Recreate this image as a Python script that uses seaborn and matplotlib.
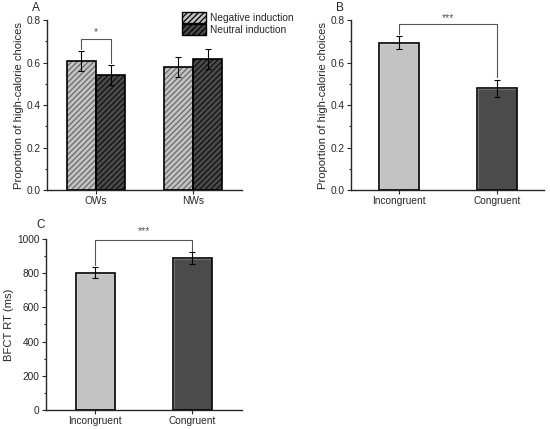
import numpy as np
import pandas as pd
import matplotlib
matplotlib.use("Agg")
import matplotlib.pyplot as plt
import seaborn as sns
from matplotlib.patches import Patch, Rectangle

# dati
gruppi = ["OWs", "OWs", "NWs", "NWs"]
induzioni = ["Negative induction", "Neutral induction", "Negative induction", "Neutral induction"]
prop_a = [0.607, 0.542, 0.580, 0.617]
err_a = [0.048, 0.049, 0.047, 0.049]

condizioni = ["Incongruent", "Congruent"]
prop_b = [0.694, 0.479]
err_b = [0.032, 0.039]

rt_c = [804, 889]
err_c = [30, 33]

chiaro = "#c3c3c3"
scuro = "#4b4b4b"

sns.set_style("ticks")
plt.rcParams["font.family"] = ["Liberation Sans", "DejaVu Sans"]
plt.rcParams["hatch.linewidth"] = 0.9

fig = plt.figure(figsize=(5.5, 4.29), dpi=100)
ax_a = fig.add_axes([0.0855, 0.557, 0.3545, 0.396])
ax_b = fig.add_axes([0.638, 0.557, 0.351, 0.396])
ax_c = fig.add_axes([0.0836, 0.0443, 0.356, 0.3986])


def stile(ax, ylabel):
    for s in ["top", "right"]:
        ax.spines[s].set_visible(False)
    for s in ["left", "bottom"]:
        ax.spines[s].set_linewidth(1.0)
    ax.tick_params(axis="both", which="major", direction="out", length=3, width=0.8,
                   labelsize=7.3, pad=1.5)
    ax.tick_params(axis="y", which="minor", direction="out", length=1.8, width=0.8)
    ax.set_xlabel("")
    ax.set_ylabel(ylabel, fontsize=8.1, labelpad=2)


def contorno(ax, hatch_colori=None):
    # i bordi neri sopra le barre (il tratteggio prende il colore del bordo)
    for i, p in enumerate(list(ax.patches)):
        x, y = p.get_xy()
        w, h = p.get_width(), p.get_height()
        if hatch_colori is not None:
            p.set_edgecolor(hatch_colori[i])
            p.set_linewidth(0)
        ax.add_patch(Rectangle((x, y), w, h, fill=False, edgecolor="black",
                               linewidth=1.2, zorder=3))


def parentesi(ax, x1, x2, y_top, y1, y2, testo, y_testo):
    ax.plot([x1, x1, x2, x2], [y1, y_top, y_top, y2], color="#555555", lw=0.8,
            clip_on=False, zorder=4)
    ax.text((x1 + x2) / 2, y_testo, testo, ha="center", va="center", fontsize=7.5,
            color="#555555", clip_on=False)


# pannello A
df_a = pd.DataFrame({"gruppo": gruppi, "induzione": induzioni, "prop": prop_a, "err": err_a})
sns.barplot(data=df_a, x="gruppo", y="prop", hue="induzione", palette=[chiaro, scuro],
            width=0.6, errorbar=None, legend=False, ax=ax_a)
for p in ax_a.patches:
    p.set_hatch("//////")
# ordine delle barre di seaborn: prima tutte le negative, poi le neutre
contorno(ax_a, hatch_colori=["#6a6a6a", "#6a6a6a", "#111111", "#111111"])
pos_a = [0 - 0.15, 1 - 0.15, 0 + 0.15, 1 + 0.15]
ord_a = [0, 2, 1, 3]
ax_a.errorbar(pos_a, [prop_a[i] for i in ord_a], yerr=[err_a[i] for i in ord_a],
              fmt="none", ecolor="black", elinewidth=0.8, capsize=2.0, capthick=0.8, zorder=5)
ax_a.set_xlim(-0.505, 1.505)
ax_a.set_ylim(0, 0.8)
ax_a.set_yticks(np.arange(0, 0.81, 0.2))
ax_a.set_yticks(np.arange(0.1, 0.8, 0.2), minor=True)
ax_a.set_yticklabels(["0.0", "0.2", "0.4", "0.6", "0.8"])
stile(ax_a, "Proportion of high-calorie choices")
parentesi(ax_a, -0.15, 0.15, 0.711, 0.663, 0.60, "*", 0.742)
maniglie = [Patch(facecolor=chiaro, edgecolor="#6a6a6a", hatch="//////", linewidth=0),
            Patch(facecolor=scuro, edgecolor="#111111", hatch="//////", linewidth=0)]
leg = ax_a.legend(maniglie, ["Negative induction", "Neutral induction"], loc="upper left",
                  bbox_to_anchor=(0.67, 1.07), frameon=False, fontsize=7.3,
                  handlelength=2.4, handleheight=1.3, handletextpad=0.4,
                  labelspacing=0.05, borderaxespad=0)
for h in leg.get_patches():
    h.set_edgecolor("black")
    h.set_linewidth(1.0)

# pannello B
df_b = pd.DataFrame({"condizione": condizioni, "prop": prop_b})
sns.barplot(data=df_b, x="condizione", y="prop", hue="condizione", palette=[chiaro, scuro],
            width=0.4, errorbar=None, legend=False, ax=ax_b)
contorno(ax_b)
ax_b.errorbar([0, 1], prop_b, yerr=err_b, fmt="none", ecolor="black", elinewidth=0.8,
              capsize=2.0, capthick=0.8, zorder=5)
ax_b.set_xlim(-0.49, 1.48)
ax_b.set_ylim(0, 0.8)
ax_b.set_yticks(np.arange(0, 0.81, 0.2))
ax_b.set_yticks(np.arange(0.1, 0.8, 0.2), minor=True)
ax_b.set_yticklabels(["0.0", "0.2", "0.4", "0.6", "0.8"])
stile(ax_b, "Proportion of high-calorie choices")
parentesi(ax_b, 0, 1, 0.78, 0.735, 0.53, "***", 0.812)

# pannello C
df_c = pd.DataFrame({"condizione": condizioni, "rt": rt_c})
sns.barplot(data=df_c, x="condizione", y="rt", hue="condizione", palette=[chiaro, scuro],
            width=0.4, errorbar=None, legend=False, ax=ax_c)
contorno(ax_c)
ax_c.errorbar([0, 1], rt_c, yerr=err_c, fmt="none", ecolor="black", elinewidth=0.8,
              capsize=2.0, capthick=0.8, zorder=5)
ax_c.set_xlim(-0.51, 1.51)
ax_c.set_ylim(0, 1000)
ax_c.set_yticks(np.arange(0, 1001, 200))
ax_c.set_yticks(np.arange(100, 1000, 200), minor=True)
stile(ax_c, "BFCT RT (ms)")
parentesi(ax_c, 0, 1, 994, 848, 925, "***", 1045)

# lettere dei pannelli
fig.text(32 / 550, 1 - 8 / 429, "A", fontsize=8.5, ha="left", va="center")
fig.text(336 / 550, 1 - 8 / 429, "B", fontsize=8.5, ha="left", va="center")
fig.text(36 / 550, 1 - 225 / 429, "C", fontsize=8.5, ha="left", va="center")

fig.savefig("out.png", dpi=100)
plt.close()
